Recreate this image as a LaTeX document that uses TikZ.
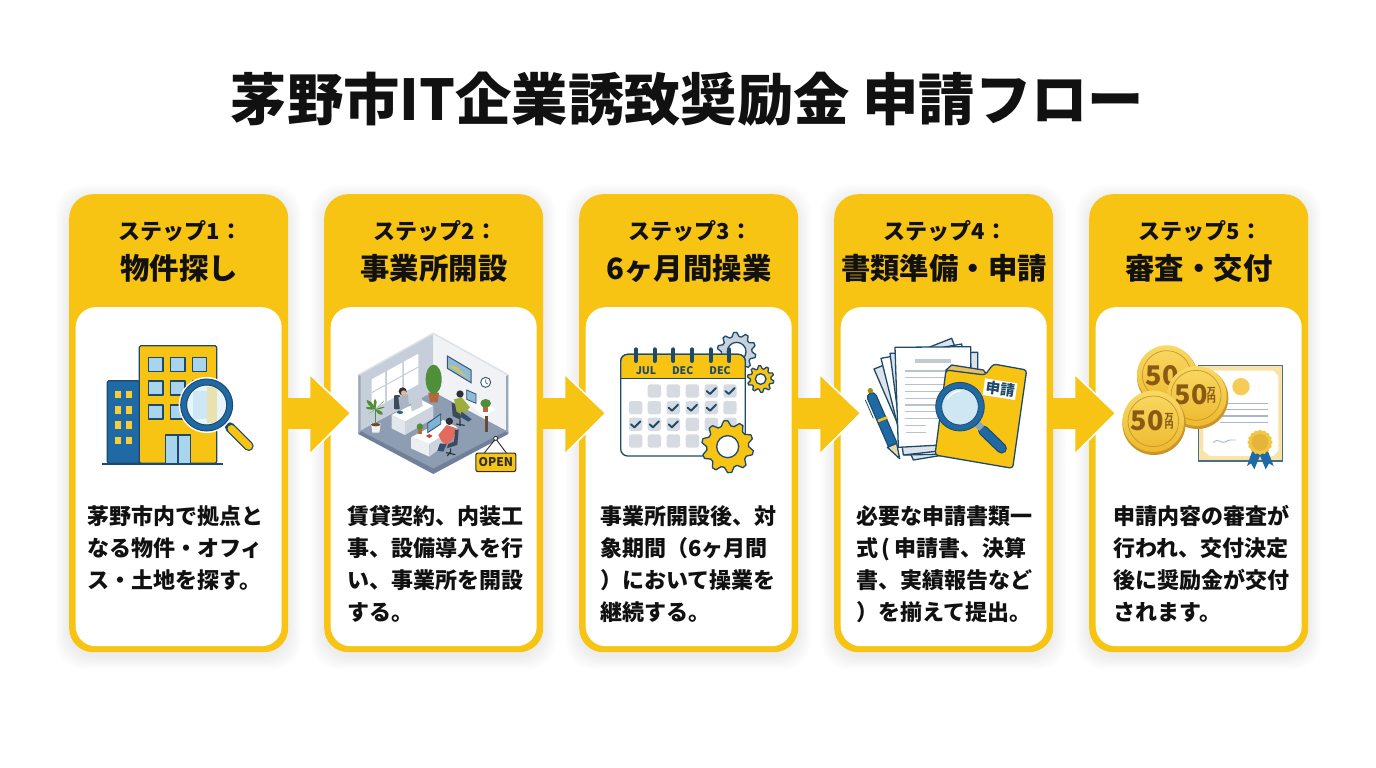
\documentclass[tikz,border=0pt]{standalone}
\usepackage{fontspec}
\usetikzlibrary{calc}
\setmainfont{Noto Sans CJK JP}
\definecolor{yel}{HTML}{F8C413}
\definecolor{ink}{HTML}{111111}
\definecolor{navy}{HTML}{1D4A6B}
\definecolor{blu}{HTML}{1F6AA5}
\definecolor{glass}{HTML}{A9D4EE}
\definecolor{cellg}{HTML}{D6DBE1}
\definecolor{coin}{HTML}{F2C544}
\definecolor{coinb}{HTML}{C9962A}
\definecolor{coint}{HTML}{8A5A12}
\newcommand{\hc}[1]{\definecolor{h#1}{HTML}{#1}}
\hc{6F8098}\hc{8D9DB2}\hc{C6CED9}\hc{F0F2F5}\hc{DDE2E9}\hc{9AA7B7}\hc{3B5673}\hc{8FBBD6}\hc{C9C36A}\hc{34506E}\hc{B5673E}\hc{4F8F3A}\hc{3E4A5C}\hc{A9B5C3}\hc{2C2F36}\hc{E6B796}\hc{E3E7EC}\hc{CDD4DD}\hc{C4CCD6}\hc{2F5F90}\hc{9DAE3E}\hc{6B4A35}\hc{F2F2EF}\hc{EDF0F3}\hc{7FB3D5}\hc{C04A3B}\hc{E36A5E}\hc{C9D1DA}\hc{DDE3EA}\hc{C3CAD2}\hc{B9C2CC}\hc{E8C060}\hc{E9D9A8}\hc{8FA6B8}\hc{CFE6F3}\hc{4A6E85}\hc{F8E3A8}\hc{F7CB58}\hc{A8B5CC}\hc{F2C544}\hc{E5B53A}\hc{F9D964}\hc{EDB92E}
\tikzset{
  card/.style={fill=yel,rounded corners=24pt,minimum width=219pt,minimum height=458pt,inner sep=0pt},
  panel/.style={fill=white,rounded corners=20pt,minimum width=206pt,minimum height=339pt,inner sep=0pt},
  steplab/.style={font=\fontsize{22}{22}\selectfont\bfseries,text=ink,inner sep=0pt},
  namelab/.style={font=\fontsize{29.4}{30}\selectfont\bfseries,text=ink,inner sep=0pt},
  bodytxt/.style={font=\fontsize{22}{32}\selectfont\bfseries,text=ink,inner sep=0pt,align=left,anchor=north west},
  ol/.style={draw=navy,line width=1.3pt,line join=round},
  iconsc/.style={x=0.33333pt,y=-0.33333pt},
  cointxt/.style={font=\fontsize{27}{27}\selectfont\bfseries,text=coint,inner sep=0pt},
  coinunit/.style={font=\fontsize{9}{8.5}\selectfont\bfseries,text=coint,inner sep=0pt,align=center},
  monthtxt/.style={font=\fontsize{10.5}{11}\selectfont\bfseries,text=navy,inner sep=0pt},
}
\newcommand{\gearshape}[8]{% cx cy ro ri rh n fill phase
  \pgfmathtruncatemacro{\gs}{4*#6}
  \pgfmathtruncatemacro{\gd}{4*#6-1}
  \filldraw[ol,fill=#7] plot[samples=\gs,domain=0:\gd,variable=\k]
    ({#1+(mod(round(\k),4)<2?#3:#4)*cos(\k*90/#6+#8)},{#2+(mod(round(\k),4)<2?#3:#4)*sin(\k*90/#6+#8)}) -- cycle;
  \filldraw[ol,fill=white] (#1,#2) circle[radius=#5];
}
\newcommand{\cardblock}[6]{% idx x step name bodyx body
  \foreach \s in {1,...,9}{
    \fill[black,opacity=0.008,rounded corners=28pt] (#2-\s*1.5,194+4-\s*1.5) rectangle (#2+219+\s*1.5,652+4+\s*1.5);
  }
  \node[card,anchor=north west] (card#1) at (#2,194) {};
  \node[panel,anchor=north west] (panel#1) at (#2+6.5,307) {};
  \node[steplab] (step#1) at (#2+111.5,231.5) {#3};
  \node[namelab] (name#1) at (#2+110,268) {#4};
  \node[bodytxt] (body#1) at (#5,505) {#6};
}
\newcommand{\flowarrow}[1]{%
  \begin{scope}[shift={(card#1.east)}]
    \draw[draw=white,line width=3.4pt,line join=miter] (22,-47) -- (61,-10) -- (22,29) -- cycle;
    \fill[yel] (22,-47) -- (61,-10) -- (22,29) -- cycle;
    \fill[yel] (-1,-25.5) rectangle (23,5.5);
  \end{scope}
}
\begin{document}
\begin{tikzpicture}[x=1pt,y=-1pt]
\useasboundingbox (0,0) rectangle (1376,768);
\fill[white] (0,0) rectangle (1376,768);
\node[font=\fontsize{56.3}{60}\selectfont\bfseries,text=ink,inner sep=0pt] (title) at (687.5,99.5) {茅野市IT企業誘致奨励金 申請フロー};

\cardblock{1}{69}{ステップ1：}{物件探し}{87}{茅野市内で拠点と\\なる物件・オフィ\\ス・土地を探す。}
\cardblock{2}{324}{ステップ2：}{事業所開設}{347}{賃貸契約、内装工\\事、設備導入を行\\い、事業所を開設\\する。}
\cardblock{3}{579}{ステップ3：}{6ヶ月間操業}{600}{事業所開設後、対\\象期間（6ヶ月間\\）において操業を\\継続する。}
\cardblock{4}{834}{ステップ4：}{書類準備・申請}{856}{必要な申請書類一\\式\kern3pt(\kern4pt申請書、決算\\書、実績報告など\\）を揃えて提出。}
\cardblock{5}{1089}{ステップ5：}{審査・交付}{1113}{申請内容の審査が\\行われ、交付決定\\後に奨励金が交付\\されます。}

\flowarrow{1}\flowarrow{2}\flowarrow{3}\flowarrow{4}

% ---- icon 1: buildings
\begin{scope}[shift={(60,190)},iconsc]
  \filldraw[ol,fill=yel,rounded corners=1.5pt] (238,820) -- (238,467) -- (470,467) -- (470,820) -- cycle;
  \foreach \wx in {266,332,397}\foreach \wy in {503,573,645}
    \filldraw[ol,fill=glass] (\wx,\wy) rectangle ++(43,42);
  \filldraw[ol,fill=glass] (316,735) rectangle (392,820);
  \draw[ol] (354,735) -- (354,820);
  \filldraw[ol,fill=blu,rounded corners=1.5pt] (238,820) -- (142,820) -- (142,572) -- (238,572) -- cycle;
  \foreach \wx in {165,199}\foreach \wy in {602,648,694,740}
    \fill[yel!85!white] (\wx,\wy) rectangle ++(17,23);
  \draw[navy,line width=1.6pt] (125,822) -- (488,822);
  \draw[navy,line width=10pt,line cap=round] (510,712) -- (566,768);
  \draw[yel,line width=7.4pt,line cap=round] (514,716) -- (566,768);
  \fill[white] (440,645) circle[radius=84];
  \fill[yel!70!white] (440,590) rectangle (470,700);
  \fill[glass!70!white] (398,603) rectangle (441,645);
  \fill[glass!70!white] (398,645) rectangle (441,687);
  \fill[glass!45!white,opacity=.55] (440,645) circle[radius=60];
  \filldraw[draw=navy,fill=blu,line width=1pt,even odd rule] (440,645) circle[radius=78] (440,645) circle[radius=60];
\end{scope}

% ---- icon 2: office
\begin{scope}[shift={(340,320)},iconsc]
  \fill[h6F8098] (55,335) -- (280,215) -- (505,335) -- (505,342) -- (280,462) -- (55,342) -- cycle;
  \fill[h8D9DB2] (60,332) -- (280,215) -- (500,332) -- (280,445) -- cycle;
  \fill[hC6CED9] (55,165) -- (280,40) -- (280,215) -- (55,335) -- cycle;
  \fill[hF0F2F5] (280,40) -- (505,165) -- (505,335) -- (280,215) -- cycle;
  \draw[hDDE2E9,line width=1.5pt] (55,165) -- (280,40) -- (505,165);
  \fill[h9AA7B7] (55,165) -- (62,168) -- (62,335) -- (55,340) -- cycle;
  \fill[h9AA7B7] (505,165) -- (498,168) -- (498,335) -- (505,340) -- cycle;
  \foreach \a/\b/\c in {95/135/150,141/187/122,192/235/95}{
    \fill[white] (\a,{270-(\a-95)*0.55}) -- (\a,{178-(\a-95)*0.55}) -- (\b,{178-(\b-95)*0.55}) -- (\b,{270-(\b-95)*0.55}) -- cycle;
  }
  \draw[hC6CED9,line width=1pt] (95,218) -- (235,141);
  \filldraw[draw=h3B5673,fill=h8FBBD6,line width=1pt] (322,108) -- (393,150) -- (393,188) -- (322,145) -- cycle;
  \fill[hC9C36A] (330,135) -- (350,140) -- (385,175) -- (330,142) -- cycle;
  \filldraw[draw=h34506E,fill=white,line width=.9pt] (437,187) circle[radius=15];
  \draw[h34506E,line width=.7pt] (437,178) -- (437,188) -- (443,192);
  % tall plant
  \fill[hB5673E] (265,218) -- (297,218) -- (293,247) -- (270,247) -- cycle;
  \fill[h4F8F3A] (281,178) ellipse[x radius=24,y radius=44];
  % chair + person at left desk
  \fill[h3E4A5C,rounded corners=1pt] (162,225) rectangle (180,268);
  \fill[hA9B5C3] (175,232) -- (203,222) -- (208,262) -- (180,270) -- cycle;
  \fill[h2C2F36] (188,214) circle[radius=12];
  \fill[hE6B796] (191,219) circle[radius=8];
  % left desk
  \fill[white] (155,285) -- (245,240) -- (280,258) -- (195,305) -- cycle;
  \fill[hE3E7EC] (155,285) -- (195,305) -- (195,345) -- (155,325) -- cycle;
  \fill[hCDD4DD] (195,305) -- (280,258) -- (280,295) -- (195,345) -- cycle;
  \fill[hC4CCD6] (212,245) -- (245,228) -- (248,258) -- (215,275) -- cycle;
  \fill[h2F5F90] (180,277) ellipse[x radius=9,y radius=5];
  % right desk
  \fill[h3E4A5C] (335,248) -- (360,258) -- (362,300) -- (338,288) -- cycle;
  \fill[h9DAE3E] (342,238) -- (365,232) -- (390,262) -- (368,285) -- (350,275) -- cycle;
  \fill[h34506E] (365,275) -- (395,298) -- (385,305) -- (360,290) -- cycle;
  \fill[h2C2F36] (360,222) circle[radius=11];
  \fill[white] (385,250) -- (425,240) -- (467,268) -- (432,290) -- cycle;
  \draw[h6B4A35,line width=3pt] (440,288) -- (440,335);
  \filldraw[draw=h34506E,fill=h8FBBD6,line width=.8pt] (380,210) -- (408,222) -- (408,250) -- (380,238) -- cycle;
  \fill[h4F8F3A] (437,250) ellipse[x radius=16,y radius=13];
  \fill[hB5673E] (430,262) rectangle (445,275);
  % palm left
  \fill[hF2F2EF] (93,310) -- (122,310) -- (118,338) -- (97,338) -- cycle;
  \fill[h6B4A35] (107,314) ellipse[x radius=14,y radius=5];
  \foreach \lx/\ly in {80/240,105/236,132/242,78/262,134/262,85/282,128/284}{
    \fill[h4F8F3A] (106,268) .. controls ($(106,268)!0.5!(\lx,\ly)+(6,-6)$) and ($(106,268)!0.8!(\lx,\ly)+(6,-3)$) .. (\lx,\ly)
      .. controls ($(106,268)!0.8!(\lx,\ly)+(-6,3)$) and ($(106,268)!0.5!(\lx,\ly)+(-6,6)$) .. (106,268) -- cycle;
  }
  \draw[h4F8F3A,line width=1.4pt] (107,268) -- (107,312);
  % front desk
  \fill[white] (213,352) -- (310,300) -- (352,322) -- (268,372) -- cycle;
  \fill[hEDF0F3] (213,352) -- (268,372) -- (268,410) -- (213,385) -- cycle;
  \fill[hCDD4DD] (268,372) -- (352,322) -- (352,345) -- (268,410) -- cycle;
  \filldraw[draw=h34506E,fill=h7FB3D5,line width=.8pt] (263,310) -- (302,282) -- (302,312) -- (263,338) -- cycle;
  \fill[hC04A3B] (258,348) -- (268,342) -- (278,348) -- (268,354) -- cycle;
  \fill[h4F8F3A] (240,320) circle[radius=10];
  \fill[hB5673E] (234,328) rectangle (247,342);
  \fill[hE36A5E] (295,345) -- (320,315) -- (350,325) -- (340,355) -- (320,375) -- (305,365) -- cycle;
  \fill[h2C2F36] (328,304) circle[radius=11];
  \fill[h34506E] (300,370) -- (320,372) -- (310,395) -- (292,392) -- cycle;
  \fill[h3E4A5C] (345,330) -- (356,328) -- (352,375) -- (320,385) -- (325,372) -- (342,365) -- cycle;
  \draw[h2C2F36,line width=1.1pt] (332,385) -- (332,402) (318,398) -- (346,404) (332,394) -- (322,408);
  \draw[h2C2F36,line width=1.1pt] (360,300) -- (360,318) (348,312) -- (374,316);
  % sign
  \draw[h2C2F36,line width=.9pt] (432,400) -- (467,356) -- (500,400);
  \draw[h2C2F36,line width=.8pt,fill=white] (467,355) circle[radius=6];
  \node[draw=h2C2F36,fill=yel,line width=1.1pt,rounded corners=2pt,minimum width=40pt,minimum height=18.5pt,inner sep=0pt,font=\fontsize{12}{12}\selectfont\bfseries,text=h2C2F36] (opensign) at (467.5,427) {OPEN};
\end{scope}

% ---- icon 3: calendar
\begin{scope}[shift={(600,320)},iconsc]
  \gearshape{410}{95}{58}{46}{28}{10}{hC9D1DA}{9}
  \gearshape{482}{177}{40}{31}{16}{10}{yel}{9}
  \filldraw[ol,fill=white,rounded corners=7pt] (62,408) -- (62,103) -- (436,103) -- (436,408) -- cycle;
  \fill[yel,rounded corners=7pt] (63,176) -- (63,104) -- (435,104) -- (435,176) -- cycle;
  \fill[yel] (63,150) rectangle (435,176);
  \draw[ol] (62,176) -- (436,176) ;
  \draw[ol,rounded corners=7pt] (62,176) -- (62,103) -- (436,103) -- (436,176);
  \foreach \rx in {108,164,220,276,332,388}
    \draw[navy,line width=4pt,line cap=round] (\rx,88) -- (\rx,123);
  \node[monthtxt] (m1) at (138,152) {JUL};
  \node[monthtxt] (m2) at (248,152) {DEC};
  \node[monthtxt] (m3) at (360,152) {DEC};
  \foreach \cx/\cy in {163/213,220/213,277/213,334/213,390/213,107/263,163/263,220/263,277/263,334/263,390/263,107/313,163/313,220/313,277/313,334/313,390/313,107/363,163/363,220/363,277/363}
    \fill[cellg,rounded corners=2.5pt] (\cx-20,\cy-20) rectangle (\cx+20,\cy+20);
  \foreach \cx/\cy in {334/213,390/213,220/263,277/263,334/263,107/313,163/313,220/313}
    \draw[navy,line width=1.9pt,line cap=round,line join=round] (\cx-14,\cy) -- (\cx-4,\cy+9) -- (\cx+14,\cy-9);
  \gearshape{383}{380}{78}{63}{33}{10}{yel}{9}
\end{scope}

% ---- icon 4: documents
\begin{scope}[shift={(850,320)},iconsc]
  \filldraw[ol,fill=hDDE3EA] (72,147) -- (305,55) -- (430,380) -- (190,420) -- cycle;
  \filldraw[ol,fill=white] (93,115) -- (335,72) -- (385,400) -- (165,405) -- cycle;
  \filldraw[ol,fill=hDDE3EA] (120,100) -- (383,97) -- (385,380) -- (160,405) -- cycle;
  \filldraw[ol,fill=white] (135,82) -- (362,80) -- (365,370) -- (145,382) -- cycle;
  \fill[hC3CAD2] (195,116) rectangle (303,130);
  \foreach \ly in {153,173,194,214,235,255,275,296}
    \draw[hB9C2CC,line width=1.3pt] (165,\ly) -- (295,\ly);
  \draw[hB9C2CC,line width=1.3pt] (165,317) -- (228,317) (168,338) -- (228,338);
  \filldraw[ol,fill=hE8C060] (288,150) -- (305,135) -- (400,150) -- (415,170) -- (288,170) -- cycle;
  \filldraw[ol,fill=yel,rounded corners=3pt] (288,150) -- (405,165) -- (430,132) -- (530,150) -- (488,445) -- (255,405) -- cycle;
  \fill[white] (405,175) -- (502,190) -- (495,240) -- (398,225) -- cycle;
  \node[rotate=-8,font=\fontsize{14.5}{15}\selectfont\bfseries,text=navy,inner sep=0pt] (lab) at (451,207) {申請};
  % pen
  \draw[navy,line width=10.5pt,line cap=round] (66,232) -- (127,372);
  \draw[blu,line width=8pt,line cap=round] (66,232) -- (127,372);
  \fill[yel!70!black] (61,212) circle[radius=8];
  \filldraw[ol,fill=hE9D9A8] (112,382) -- (140,370) -- (149,416) -- cycle;
  \draw[yel,line width=2.5pt] (84,303) -- (112,292);
  \draw[navy,line width=.8pt] (46,240) -- (70,295);
  % magnifier
  \draw[navy,line width=10.5pt,line cap=round] (400,332) -- (455,385);
  \draw[blu,line width=8pt,line cap=round] (400,332) -- (455,385);
  \draw[h8FA6B8,line width=7pt] (378,308) -- (395,325);
  \filldraw[draw=navy,fill=blu,line width=.8pt] (330,260) circle[radius=73];
  \filldraw[draw=navy,fill=hCFE6F3,line width=.8pt] (330,260) circle[radius=55];
  \draw[white,line width=1.2pt,line cap=round] (292,238) arc[start angle=205,end angle=270,radius=42];
\end{scope}

% ---- icon 5: certificate and coins
\begin{scope}[shift={(1105,320)},iconsc]
  \filldraw[draw=h4A6E85,fill=hF8E3A8,line width=1.3pt] (280,137) rectangle (533,423);
  \fill[white] (315,152) -- (505,152) -- (520,168) -- (520,392) -- (505,408) -- (315,408) -- (295,392) -- (295,168) -- cycle;
  \fill[hF7CB58] (408,200) circle[radius=26];
  \foreach \ly in {250,268,288,308} \draw[hA8B5CC,line width=1.1pt] (345,\ly) -- (490,\ly);
  \draw[hA8B5CC,line width=.9pt] (325,368) .. controls (340,350) and (350,375) .. (362,365) .. controls (372,358) and (382,360) .. (392,360);
  \fill[blu] (442,392) -- (468,400) -- (448,448) -- (438,430) -- (426,438) -- cycle;
  \fill[blu] (488,392) -- (462,400) -- (482,448) -- (492,430) -- (506,438) -- cycle;
  \fill[hF2C544] plot[samples=32,domain=0:31,variable=\k] ({465+(mod(round(\k),2)<1?38:34)*cos(\k*360/32)},{367+(mod(round(\k),2)<1?38:34)*sin(\k*360/32)}) -- cycle;
  \fill[hE5B53A] (465,367) circle[radius=25];
  % coins
  \fill[coinb] (187,171) circle[radius=91];
  \shade[top color=hF9D964,bottom color=hEDB92E] (185,165) circle[radius=89];
  \draw[coinb,line width=.7pt] (185,165) circle[radius=73];
  \node[cointxt] (c1) at (172,166) {50};
  \fill[coinb] (277,234) circle[radius=93];
  \shade[top color=hF9D964,bottom color=hEDB92E] (275,228) circle[radius=90];
  \draw[coinb,line width=.7pt] (273,226) circle[radius=75];
  \node[cointxt] (c2) at (258,225) {50};
  \node[coinunit] (u2) at (319,226) {万\\円};
  \fill[coinb] (147,310) circle[radius=95];
  \shade[top color=hF9D964,bottom color=hEDB92E] (145,304) circle[radius=92];
  \draw[coinb,line width=.7pt] (145,304) circle[radius=76];
  \node[cointxt] (c3) at (127,302) {50};
  \node[coinunit] (u3) at (192,304) {万\\円};
\end{scope}
\end{tikzpicture}
\end{document}
